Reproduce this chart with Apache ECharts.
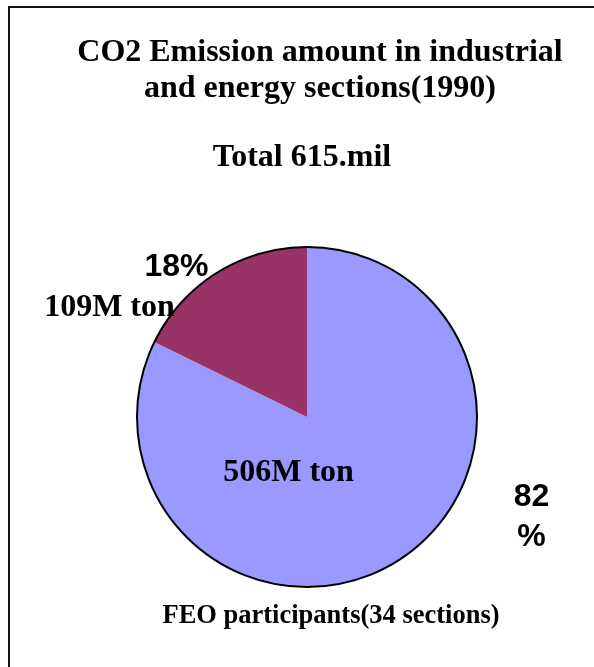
<!DOCTYPE html>
<html>
<head>
<meta charset="utf-8">
<script src="https://cdn.jsdelivr.net/npm/echarts@6/dist/echarts.min.js"></script>
<style>
html,body{margin:0;padding:0;background:#fff;}
#chart{width:594px;height:667px;}
</style>
</head>
<body>
<div id="chart"></div>
<script>
// ---- data ----
const titleText = 'CO2 Emission amount in industrial\nand energy sections(1990)';
const totalText = 'Total 615.mil';
const captionText = 'FEO participants(34 sections)';
const categories = ['FEO participants', 'Others'];
const values = [506, 109];
const unit = 'M ton';
const sliceColors = ['#9999FF', '#993366'];

const total = values.reduce((a, b) => a + b, 0);
const serif = '"Liberation Serif", "Times New Roman", serif';
const sans = '"Liberation Sans", Arial, sans-serif';
const center = [307, 417];
const radius = 170;

// label placement for each slice (value label, percent label)
const valueLabelCfg = [
  { offset: [-65, -19] },
  { offset: [-151, -35] }
];
const pctLabelCfg = [
  { offset: [178, 25], formatter: '{d}\n%' },
  { offset: [-84, -75], formatter: '{d}%' }
];

const chart = echarts.init(document.getElementById('chart'), null, { renderer: 'canvas' });

chart.setOption({
  backgroundColor: '#ffffff',
  animation: false,
  title: [
    {
      text: titleText,
      left: 320, top: 34.5, padding: 0, textAlign: 'center',
      textStyle: { fontFamily: serif, fontWeight: 'bold', fontSize: 32, lineHeight: 36, color: '#000' }
    },
    {
      text: totalText,
      left: 302, top: 142, padding: 0, textAlign: 'center',
      textStyle: { fontFamily: serif, fontWeight: 'bold', fontSize: 32, color: '#000' }
    },
    {
      text: captionText,
      left: 331, top: 603, padding: 0, textAlign: 'center',
      textStyle: { fontFamily: serif, fontWeight: 'bold', fontSize: 26.5, color: '#000' }
    }
  ],
  graphic: [
    {
      type: 'rect', silent: true, z: -1,
      shape: { x: 9, y: 7, width: 2000, height: 2000 },
      style: { fill: 'none', stroke: '#111', lineWidth: 2 }
    }
  ],
  series: [
    {
      type: 'pie',
      center: center, radius: radius,
      startAngle: 90, clockwise: true,
      silent: true,
      emphasis: { disabled: true },
      labelLine: { show: false },
      data: categories.map((c, i) => ({
        name: c, value: values[i],
        itemStyle: { color: sliceColors[i], borderWidth: 0 },
        label: {
          show: true, position: 'inside', offset: valueLabelCfg[i].offset,
          formatter: '{c}' + unit,
          fontFamily: serif, fontWeight: 'bold', fontSize: 32, color: '#000'
        }
      }))
    },
    {
      type: 'pie',
      center: center, radius: radius,
      startAngle: 90, clockwise: true,
      silent: true, percentPrecision: 0,
      emphasis: { disabled: true },
      labelLine: { show: false },
      data: categories.map((c, i) => ({
        name: c, value: values[i],
        itemStyle: { color: 'rgba(0,0,0,0)', borderWidth: 0 },
        label: {
          show: true, position: 'inside', offset: pctLabelCfg[i].offset,
          formatter: pctLabelCfg[i].formatter,
          fontFamily: sans, fontWeight: 'bold', fontSize: 32, lineHeight: 40, color: '#000'
        }
      }))
    },
    {
      type: 'pie',
      center: center, radius: radius,
      silent: true,
      emphasis: { disabled: true },
      label: { show: false }, labelLine: { show: false },
      data: [{ name: 'total', value: total, itemStyle: { color: 'rgba(0,0,0,0)', borderColor: '#000', borderWidth: 2 } }]
    }
  ]
});
</script>
</body>
</html>
